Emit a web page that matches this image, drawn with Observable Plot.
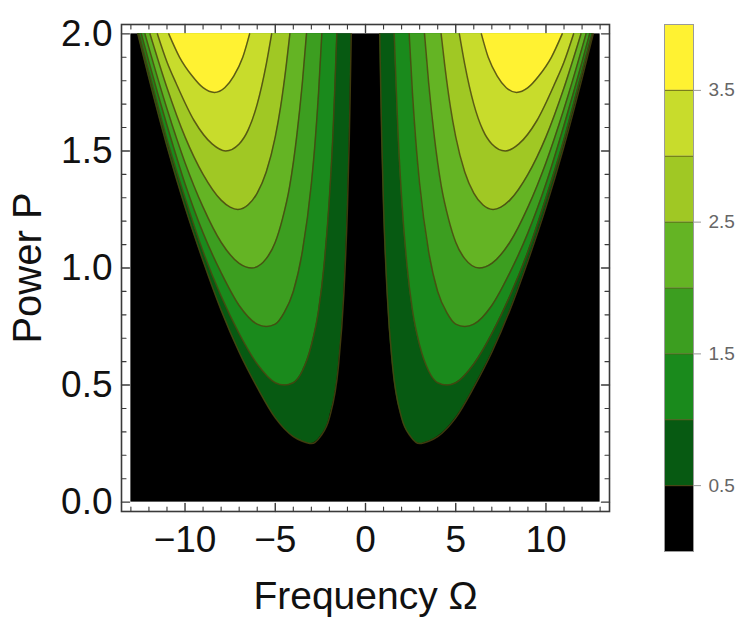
<!DOCTYPE html>
<html><head><meta charset="utf-8">
<script src="https://cdn.jsdelivr.net/npm/d3@7"></script>
<script src="https://cdn.jsdelivr.net/npm/@observablehq/plot@0.6"></script>
<style>
body{margin:0;background:#fff;}
#wrap{position:relative;width:753px;height:625px;font-family:"Liberation Sans",Arial,sans-serif;}
#wrap svg{position:absolute;top:0;}
</style></head><body><div id="wrap"></div>
<script>
// ---- data ----
const omegaRange = [-13, 13];
const powerRange = [0, 2];
const xTicks = [-10, -5, 0, 5, 10];
const xMinor = [-13,-12,-11,-9,-8,-7,-6,-4,-3,-2,-1,1,2,3,4,6,7,8,9,11,12,13];
const yTicks = [0, 0.5, 1, 1.5, 2];
const yMinor = [0.1,0.2,0.3,0.4,0.6,0.7,0.8,0.9,1.1,1.2,1.3,1.4,1.6,1.7,1.8,1.9];
const levels = [0.5, 1, 1.5, 2, 2.5, 3, 3.5];
const colorbarRange = [0, 4];
const colorbarTicks = [0.5, 1.5, 2.5, 3.5];
const bandColors = ["#000000","#075a12","#1a8a1c","#3c9e20","#64b424","#a0c824","#c8dc2c","#fff232"];

// contour curves (right half, Ω > 0; left half is its mirror image)
const omega05 = [0.79,0.85,0.9,1.0,1.2,1.5,2,2.5,3,3.5,4,5,6,7,8,9,10,11,12,12.62];
const power05 = [2.0,1.74,1.55,1.26,0.89,0.58,0.36,0.28,0.25,0.26,0.28,0.36,0.49,0.64,0.82,1.03,1.26,1.52,1.81,2.0];
const omega10 = [1.59,1.7,1.8,2.0,2.3,2.6,3,3.5,4,4.5,5,6,7,8,9,10,11,12,12.55];
const power10 = [2.0,1.77,1.58,1.30,1.01,0.82,0.67,0.56,0.51,0.50,0.51,0.59,0.72,0.88,1.07,1.30,1.55,1.84,2.0];
const omega15 = [2.42,2.6,2.8,3,3.5,4,4.5,5,5.5,6,7,8,9,10,11,12,12.42];
const power15 = [2.0,1.75,1.53,1.36,1.07,0.90,0.81,0.76,0.75,0.76,0.84,0.98,1.15,1.36,1.61,1.88,2.0];
const omega20 = [3.27,3.5,3.8,4.2,4.6,5,5.5,6.3,7,8,9,10,11,12,12.22];
const power20 = [2.0,1.79,1.57,1.35,1.21,1.11,1.04,1.00,1.02,1.11,1.26,1.45,1.68,1.94,2.0];
const omega25 = [4.19,4.4,4.7,5,5.5,6,6.5,7.07,7.5,8,9,10,11,11.94];
const power25 = [2.0,1.86,1.69,1.56,1.41,1.32,1.27,1.25,1.26,1.29,1.40,1.56,1.77,2.0];
const omega30 = [5.2,5.5,6,6.5,7,7.75,8.5,9.5,10.5,11,11.53];
const power30 = [2.0,1.87,1.70,1.59,1.53,1.50,1.53,1.63,1.79,1.88,2.0];
const omega35 = [6.42,6.8,7.3,7.8,8.37,9,9.6,10.3,10.9];
const power35 = [2.0,1.90,1.82,1.77,1.75,1.77,1.82,1.90,2.0];

const contourOmega = [omega05, omega10, omega15, omega20, omega25, omega30, omega35];
const contourPower = [power05, power10, power15, power20, power25, power30, power35];

// ---- build series ----
const series = levels.map((lv, i) => {
  const right = contourOmega[i].map((w, j) => ({key: lv + "R", omega: w, power: contourPower[i][j]}));
  const left = contourOmega[i].map((w, j) => ({key: lv + "L", omega: -w, power: contourPower[i][j]})).reverse();
  return left.concat(right);
});

const font = '"Liberation Sans", Arial, sans-serif';
const frameStroke = "#3a3a3a";
const tickShape = {draw(context, l) { context.moveTo(0, 0); context.lineTo(0, -l); }};

function xTickMarks(values, len, sw) {
  return [
    Plot.vector(values, {x: d => d, frameAnchor: "bottom", rotate: 0, length: len, anchor: "start", shape: tickShape, stroke: frameStroke, strokeWidth: sw}),
    Plot.vector(values, {x: d => d, frameAnchor: "top", rotate: 180, length: len, anchor: "start", shape: tickShape, stroke: frameStroke, strokeWidth: sw})
  ];
}
function yTickMarks(values, len, sw) {
  return [
    Plot.vector(values, {y: d => d, frameAnchor: "left", rotate: 90, length: len, anchor: "start", shape: tickShape, stroke: frameStroke, strokeWidth: sw}),
    Plot.vector(values, {y: d => d, frameAnchor: "right", rotate: -90, length: len, anchor: "start", shape: tickShape, stroke: frameStroke, strokeWidth: sw})
  ];
}

const marks = [
  Plot.rect([{x1: omegaRange[0], x2: omegaRange[1], y1: powerRange[0], y2: powerRange[1]}],
    {x1: "x1", x2: "x2", y1: "y1", y2: "y2", fill: bandColors[0]})
];
series.forEach((s, i) => {
  marks.push(Plot.areaY(s, {x: "omega", y1: "power", y2: powerRange[1], z: "key", fill: bandColors[i + 1], curve: "monotone-x"}));
});
series.forEach((s) => {
  marks.push(Plot.line(s, {x: "omega", y: "power", z: "key", stroke: "#4a4410", strokeOpacity: 0.85, strokeWidth: 1.5, curve: "monotone-x"}));
});
marks.push(
  Plot.frame({stroke: frameStroke, strokeWidth: 1.6}),
  ...xTickMarks(xTicks, 8, 1.4),
  ...xTickMarks(xMinor, 4.5, 1.1),
  ...yTickMarks(yTicks, 8, 1.4),
  ...yTickMarks(yMinor, 4.5, 1.1),
  Plot.axisX(xTicks, {anchor: "bottom", tickSize: 0, tickPadding: 14, fontSize: 37, fill: "#111", label: null,
    tickFormat: d => (d < 0 ? "\u2212" + Math.abs(d) : String(d))}),
  Plot.axisY(yTicks, {anchor: "left", tickSize: 0, tickPadding: 9, fontSize: 37, fill: "#111", label: null,
    tickFormat: d => d.toFixed(1)}),
  Plot.text(["Frequency \u03A9"], {text: d => d, frameAnchor: "bottom", textAnchor: "middle", dy: 97, fontSize: 39, fill: "#111"}),
  Plot.text(["Power P"], {text: d => d, frameAnchor: "left", textAnchor: "middle", rotate: -90, dx: -93, fontSize: 40, fill: "#111"})
);

const main = Plot.plot({
  width: 753, height: 625,
  marginLeft: 121, marginRight: 144, marginTop: 24, marginBottom: 114,
  style: {fontFamily: font, background: "transparent"},
  x: {domain: [-13.52, 13.52], label: null},
  y: {domain: [-0.04, 2.04], label: null},
  marks
});
main.style.left = "0px";

const bounds = [colorbarRange[0], ...levels, colorbarRange[1]];
const bands = bandColors.map((c, i) => ({lo: bounds[i], hi: bounds[i + 1], color: c}));
const bar = Plot.plot({
  width: 113, height: 625,
  marginLeft: 24, marginRight: 60, marginTop: 24, marginBottom: 74,
  style: {fontFamily: font, background: "transparent"},
  x: {domain: [0, 1], axis: null},
  y: {domain: colorbarRange, label: null},
  marks: [
    Plot.rect(bands, {x1: 0, x2: 1, y1: "lo", y2: "hi", fill: "color"}),
    Plot.ruleY(levels, {stroke: "#5a5614", strokeOpacity: 0.7, strokeWidth: 1.2}),
    Plot.frame({stroke: "#9a9a9a", strokeWidth: 1}),
    Plot.axisY(colorbarTicks, {anchor: "right", tickSize: 7, tickPadding: 8, stroke: "#999", fill: "#666", fontSize: 19, label: null,
      tickFormat: d => d.toFixed(1)})
  ]
});
bar.style.left = "640px";

document.getElementById("wrap").append(main, bar);
</script></body></html>
